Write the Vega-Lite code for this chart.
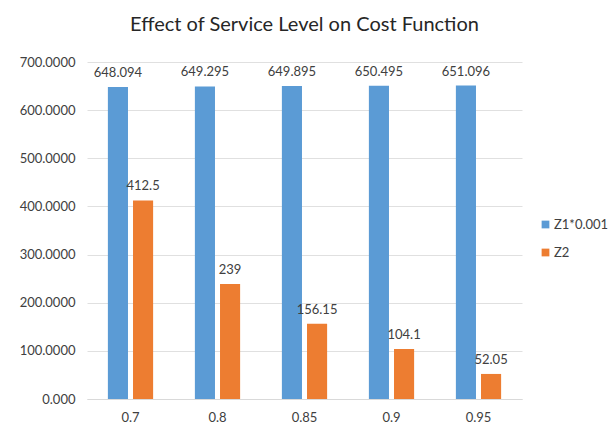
{
  "$schema": "https://vega.github.io/schema/vega-lite/v6.json",
  "autosize": "none",
  "width": 435,
  "height": 337,
  "padding": {"left": 87, "top": 62, "right": 86, "bottom": 31},
  "background": "white",
  "title": {
    "text": "Effect of Service Level on Cost Function",
    "font": "Lato",
    "fontSize": 20,
    "fontWeight": "normal",
    "color": "#262626",
    "anchor": "middle",
    "offset": 21
  },
  "data": {
    "values": [
      {"level": "0.7", "series": "Z1*0.001", "value": 648.094},
      {"level": "0.7", "series": "Z2", "value": 412.5},
      {"level": "0.8", "series": "Z1*0.001", "value": 649.295},
      {"level": "0.8", "series": "Z2", "value": 239},
      {"level": "0.85", "series": "Z1*0.001", "value": 649.895},
      {"level": "0.85", "series": "Z2", "value": 156.15},
      {"level": "0.9", "series": "Z1*0.001", "value": 650.495},
      {"level": "0.9", "series": "Z2", "value": 104.1},
      {"level": "0.95", "series": "Z1*0.001", "value": 651.096},
      {"level": "0.95", "series": "Z2", "value": 52.05}
    ]
  },
  "encoding": {
    "x": {
      "field": "level",
      "type": "ordinal",
      "sort": null,
      "scale": {"paddingInner": 0.48, "paddingOuter": 0.24},
      "axis": {
        "title": null,
        "labelAngle": 0,
        "labelFont": "Lato",
        "labelFontSize": 13,
        "labelColor": "#404040",
        "labelPadding": 12,
        "ticks": false,
        "domainColor": "#d9d9d9",
        "grid": false
      }
    },
    "xOffset": {
      "field": "series",
      "type": "nominal",
      "scale": {"paddingInner": 0.2}
    },
    "y": {
      "field": "value",
      "type": "quantitative",
      "scale": {"domain": [0, 700], "nice": false},
      "axis": {
        "title": null,
        "values": [0, 100, 200, 300, 400, 500, 600, 700],
        "labelExpr": "datum.value == 0 ? '0.000' : format(datum.value, '.4f')",
        "labelFont": "Lato",
        "labelFontSize": 13,
        "labelColor": "#404040",
        "labelPadding": 12,
        "ticks": false,
        "domain": false,
        "gridColor": "#e0e0e0",
        "gridWidth": 1
      }
    },
    "color": {
      "field": "series",
      "type": "nominal",
      "scale": {"domain": ["Z1*0.001", "Z2"], "range": ["#5b9bd5", "#ed7d31"]},
      "legend": {
        "title": null,
        "orient": "none",
        "legendX": 452,
        "legendY": 156,
        "symbolType": "square",
        "symbolSize": 60,
        "symbolStrokeWidth": 0,
        "labelFont": "Lato",
        "labelFontSize": 13,
        "labelColor": "#404040",
        "labelOffset": 2,
        "rowPadding": 14
      }
    }
  },
  "layer": [
    {"mark": {"type": "bar"}},
    {
      "mark": {
        "type": "text",
        "baseline": "bottom",
        "dy": -7,
        "font": "Lato",
        "fontSize": 13,
        "color": "#404040"
      },
      "encoding": {
        "text": {"field": "value", "type": "quantitative", "format": ".6~g"},
        "color": {"value": "#404040"}
      }
    }
  ],
  "config": {"view": {"stroke": null}}
}
